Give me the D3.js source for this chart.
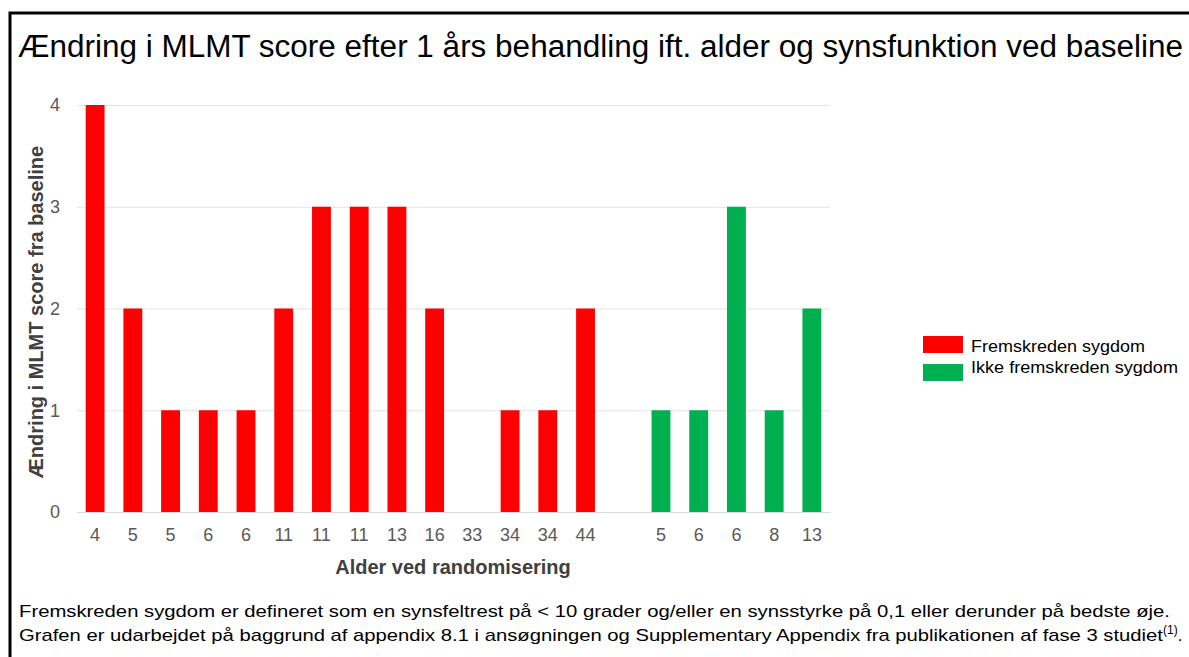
<!DOCTYPE html>
<html>
<head>
<meta charset="utf-8">
<script src="https://cdn.jsdelivr.net/npm/d3@7"></script>
<style>
  body { margin: 0; background: #fff; }
  svg { display: block; font-family: "Liberation Sans", Arial, sans-serif; }
</style>
</head>
<body>
<div id="chart"></div>
<script>
// ages at randomisation, per group
const advancedAges = ['4', '5', '5', '6', '6', '11', '11', '11', '13', '16', '33', '34', '34', '44'];
const advancedScores = [4, 2, 1, 1, 1, 2, 3, 3, 3, 2, 0, 1, 1, 2];
const earlyAges = ['5', '6', '6', '8', '13'];
const earlyScores = [1, 1, 3, 1, 2];
const yTicks = [0, 1, 2, 3, 4];
const seriesNames = ['Fremskreden sygdom', 'Ikke fremskreden sygdom'];
const seriesColors = ['#ff0000', '#00b050'];

const W = 1189, H = 657;
const plot = { left: 77, right: 830, top: 105, bottom: 512 };
const font = '"Liberation Sans", Arial, sans-serif';

// one empty slot between the two groups
const rows = [];
advancedAges.forEach((a, i) => rows.push({ key: 'a' + i, label: a, value: advancedScores[i], s: 0 }));
rows.push({ key: 'gap', label: '', value: null, s: -1 });
earlyAges.forEach((a, i) => rows.push({ key: 'e' + i, label: a, value: earlyScores[i], s: 1 }));

const svg = d3.select('#chart').append('svg')
  .attr('width', W)
  .attr('height', H);

// frame
svg.append('path')
  .attr('d', `M10,${H} V13 H${W}`)
  .attr('fill', 'none')
  .attr('stroke', '#000')
  .attr('stroke-width', 3);

svg.append('text')
  .attr('x', 18)
  .attr('y', 57)
  .attr('font-size', 31)
  .attr('fill', '#000')
  .attr('textLength', 1165)
  .attr('lengthAdjust', 'spacingAndGlyphs')
  .text('Ændring i MLMT score efter 1 års behandling ift. alder og synsfunktion ved baseline');

const x = d3.scaleBand()
  .domain(rows.map(d => d.key))
  .range([plot.left, plot.right])
  .paddingInner(0.5)
  .paddingOuter(0.23);

const y = d3.scaleLinear()
  .domain([0, 4])
  .range([plot.bottom, plot.top]);

// gridlines + y labels
const yAxis = svg.append('g')
  .attr('transform', `translate(${plot.left},0)`)
  .call(d3.axisLeft(y).tickValues(yTicks).tickSize(-(plot.right - plot.left)).tickPadding(17).tickFormat(d3.format('d')));
yAxis.select('.domain').remove();
yAxis.selectAll('.tick line').attr('stroke', '#e3e3e3');
yAxis.selectAll('.tick text')
  .attr('font-size', 18)
  .attr('fill', '#595959')
  .attr('font-family', font);

// x labels
const xAxis = svg.append('g')
  .attr('transform', `translate(0,${plot.bottom})`)
  .call(d3.axisBottom(x).tickSize(0).tickPadding(16).tickFormat(k => rows.find(r => r.key === k).label));
xAxis.select('.domain').attr('stroke', '#d9d9d9');
xAxis.selectAll('.tick text')
  .attr('font-size', 18)
  .attr('fill', '#595959')
  .attr('font-family', font);

svg.selectAll('.bar')
  .data(rows.filter(d => d.s >= 0 && d.value > 0))
  .enter()
  .append('rect')
  .attr('class', 'bar')
  .attr('x', d => x(d.key))
  .attr('y', d => y(d.value))
  .attr('width', x.bandwidth())
  .attr('height', d => y(0) - y(d.value))
  .attr('fill', d => seriesColors[d.s]);

// axis titles
svg.append('text')
  .attr('x', 453)
  .attr('y', 574)
  .attr('text-anchor', 'middle')
  .attr('font-size', 20)
  .attr('font-weight', 'bold')
  .attr('fill', '#404040')
  .text('Alder ved randomisering');

svg.append('text')
  .attr('transform', `translate(43,312) rotate(-90)`)
  .attr('text-anchor', 'middle')
  .attr('font-size', 20)
  .attr('font-weight', 'bold')
  .attr('fill', '#404040')
  .text('Ændring i MLMT score fra baseline');

// legend
const legendWidths = [174, 207];
const legend = svg.append('g')
  .attr('transform', 'translate(923,336)');
const item = legend.selectAll('g')
  .data(seriesNames)
  .enter()
  .append('g')
  .attr('transform', (d, i) => `translate(0,${i * 28})`);
item.append('rect')
  .attr('width', 40)
  .attr('height', 17)
  .attr('fill', (d, i) => seriesColors[i]);
item.append('text')
  .attr('x', 48)
  .attr('y', (d, i) => i === 0 ? 16 : 9)
  .attr('font-size', 17)
  .attr('fill', '#000')
  .attr('textLength', (d, i) => legendWidths[i])
  .attr('lengthAdjust', 'spacingAndGlyphs')
  .text(d => d);

// footnote
const note = svg.append('g')
  .attr('font-size', 17)
  .attr('fill', '#000');
note.append('text')
  .attr('x', 19)
  .attr('y', 617)
  .attr('textLength', 1151)
  .attr('lengthAdjust', 'spacingAndGlyphs')
  .text('Fremskreden sygdom er defineret som en synsfeltrest på < 10 grader og/eller en synsstyrke på 0,1 eller derunder på bedste øje.');
const line2 = note.append('text')
  .attr('x', 19)
  .attr('y', 641);
line2.append('tspan')
  .attr('textLength', 1144)
  .attr('lengthAdjust', 'spacingAndGlyphs')
  .text('Grafen er udarbejdet på baggrund af appendix 8.1 i ansøgningen og Supplementary Appendix fra publikationen af fase 3 studiet');
line2.append('tspan').attr('font-size', 12).attr('dy', -7).text('(1)');
line2.append('tspan').attr('dy', 7).text('.');
</script>
</body>
</html>
